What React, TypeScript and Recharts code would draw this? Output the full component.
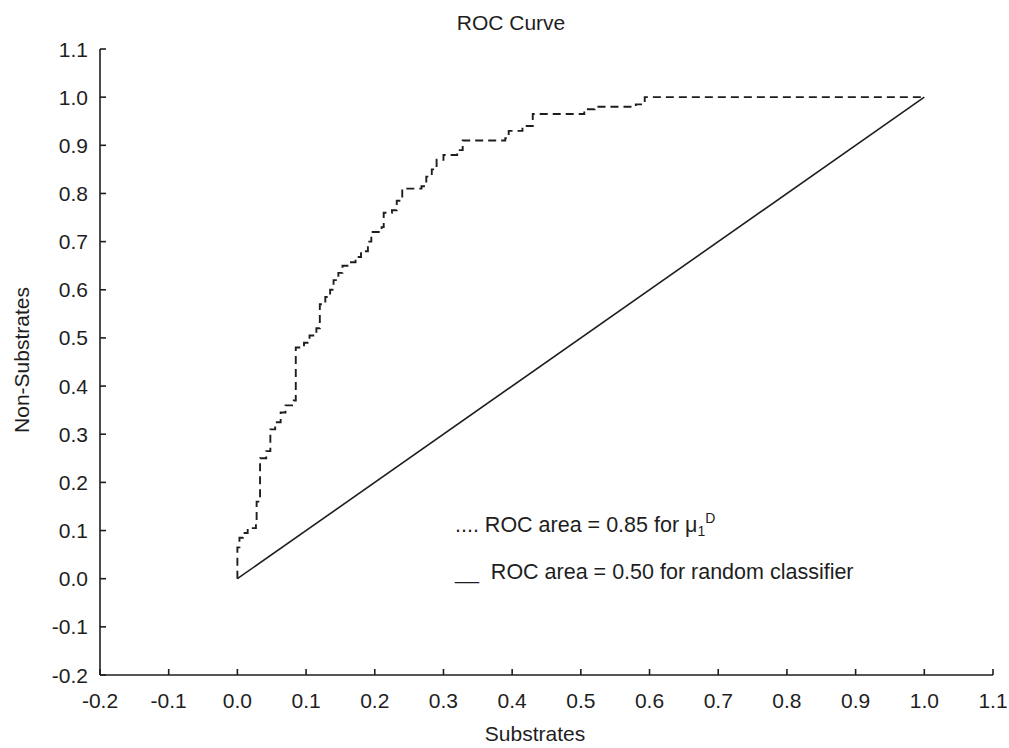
import React from "react";
import { LineChart, Line, XAxis, YAxis } from "recharts";

// ROC step points: at each x the curve rises to y (drawn as stepAfter)
const rocFpr = [
  0, 0, 0.003, 0.008, 0.015, 0.027, 0.028, 0.033, 0.042, 0.048, 0.055, 0.063, 0.07, 0.082,
  0.085, 0.097, 0.105, 0.115, 0.12, 0.128, 0.135, 0.14, 0.147, 0.153, 0.163, 0.172, 0.18,
  0.19, 0.195, 0.21, 0.213, 0.225, 0.232, 0.24, 0.268, 0.275, 0.283, 0.29, 0.3, 0.32, 0.328,
  0.39, 0.395, 0.415, 0.43, 0.505, 0.52, 0.58, 0.593, 1.0,
];
const rocTpr = [
  0, 0.065, 0.085, 0.095, 0.105, 0.115, 0.16, 0.25, 0.265, 0.31, 0.325, 0.345, 0.36, 0.37,
  0.48, 0.49, 0.505, 0.52, 0.57, 0.585, 0.6, 0.62, 0.635, 0.65, 0.657, 0.668, 0.68,
  0.7, 0.72, 0.73, 0.76, 0.765, 0.785, 0.81, 0.815, 0.835, 0.85, 0.87, 0.88, 0.89, 0.91,
  0.915, 0.93, 0.94, 0.965, 0.975, 0.98, 0.985, 1.0, 1.0,
];
const randomFpr = [0, 1];
const randomTpr = [0, 1];

const xTicks = [-0.2, -0.1, 0, 0.1, 0.2, 0.3, 0.4, 0.5, 0.6, 0.7, 0.8, 0.9, 1.0, 1.1];
const yTicks = [-0.2, -0.1, 0, 0.1, 0.2, 0.3, 0.4, 0.5, 0.6, 0.7, 0.8, 0.9, 1.0, 1.1];

const rocData = rocFpr.map((x, i) => ({ x, y: rocTpr[i] }));
const randomData = randomFpr.map((x, i) => ({ x, y: randomTpr[i] }));

const INK = "#1e1e1e";
const FONT = "'Liberation Sans', Arial, sans-serif";
const FS = 21;

const fmt = (v: number) => v.toFixed(1);

const XTick = (props: any) => {
  const { x, y, payload } = props;
  return (
    <g>
      <line x1={x} y1={y} x2={x} y2={y - 6} stroke={INK} strokeWidth={1.6} />
      <text x={x} y={y + 33} textAnchor="middle" fontSize={FS} fill={INK} fontFamily={FONT}>
        {fmt(payload.value)}
      </text>
    </g>
  );
};

const YTick = (props: any) => {
  const { x, y, payload } = props;
  return (
    <g>
      <line x1={x} y1={y} x2={x + 6} y2={y} stroke={INK} strokeWidth={1.6} />
      <text x={x - 12} y={y + 7.5} textAnchor="end" fontSize={FS} fill={INK} fontFamily={FONT}>
        {fmt(payload.value)}
      </text>
    </g>
  );
};

const textStyle: React.CSSProperties = {
  position: "absolute",
  fontFamily: FONT,
  fontSize: FS,
  color: INK,
  lineHeight: "24px",
  whiteSpace: "pre",
};

export default function App() {
  return (
    <div style={{ position: "absolute", left: 0, top: 0, width: 1009, height: 748, background: "#fff" }}>
      <LineChart width={1009} height={748} margin={{ top: 49, right: 16, bottom: 0, left: 40 }}>
        <XAxis
          type="number"
          dataKey="x"
          domain={[-0.2, 1.1]}
          ticks={xTicks}
          allowDataOverflow
          height={73}
          tickSize={0}
          tickMargin={0}
          tickLine={false}
          tick={<XTick />}
          axisLine={{ stroke: INK, strokeWidth: 1.6 }}
          interval={0}
        />
        <YAxis
          type="number"
          dataKey="y"
          domain={[-0.2, 1.1]}
          ticks={yTicks}
          allowDataOverflow
          width={60}
          tickSize={0}
          tickMargin={0}
          tickLine={false}
          tick={<YTick />}
          axisLine={{ stroke: INK, strokeWidth: 1.6 }}
          interval={0}
        />
        <Line
          data={randomData}
          dataKey="y"
          type="linear"
          stroke={INK}
          strokeWidth={1.6}
          dot={false}
          isAnimationActive={false}
        />
        <Line
          data={rocData}
          dataKey="y"
          type="stepAfter"
          stroke={INK}
          strokeWidth={1.9}
          strokeDasharray="8 5"
          dot={false}
          isAnimationActive={false}
        />
      </LineChart>

      <div style={{ ...textStyle, left: 0, width: 1022, top: 11, textAlign: "center" }}>ROC Curve</div>
      <div style={{ ...textStyle, left: 0, width: 1070, top: 722, textAlign: "center" }}>Substrates</div>
      <div
        style={{
          ...textStyle,
          left: 22,
          top: 360,
          transform: "translate(-50%, -50%) rotate(-90deg)",
        }}
      >
        Non-Substrates
      </div>

      <div style={{ ...textStyle, fontSize: 21.5, left: 455, top: 506 }}>
        {".... ROC area = 0.85 for μ"}
        <sub style={{ fontSize: 14, verticalAlign: "-4px" }}>1</sub>
        <sup style={{ fontSize: 14, verticalAlign: "9px" }}>D</sup>
      </div>
      <div style={{ ...textStyle, fontSize: 21.5, left: 455, top: 560 }}>
        {"__  ROC area = 0.50 for random classifier"}
      </div>
    </div>
  );
}
